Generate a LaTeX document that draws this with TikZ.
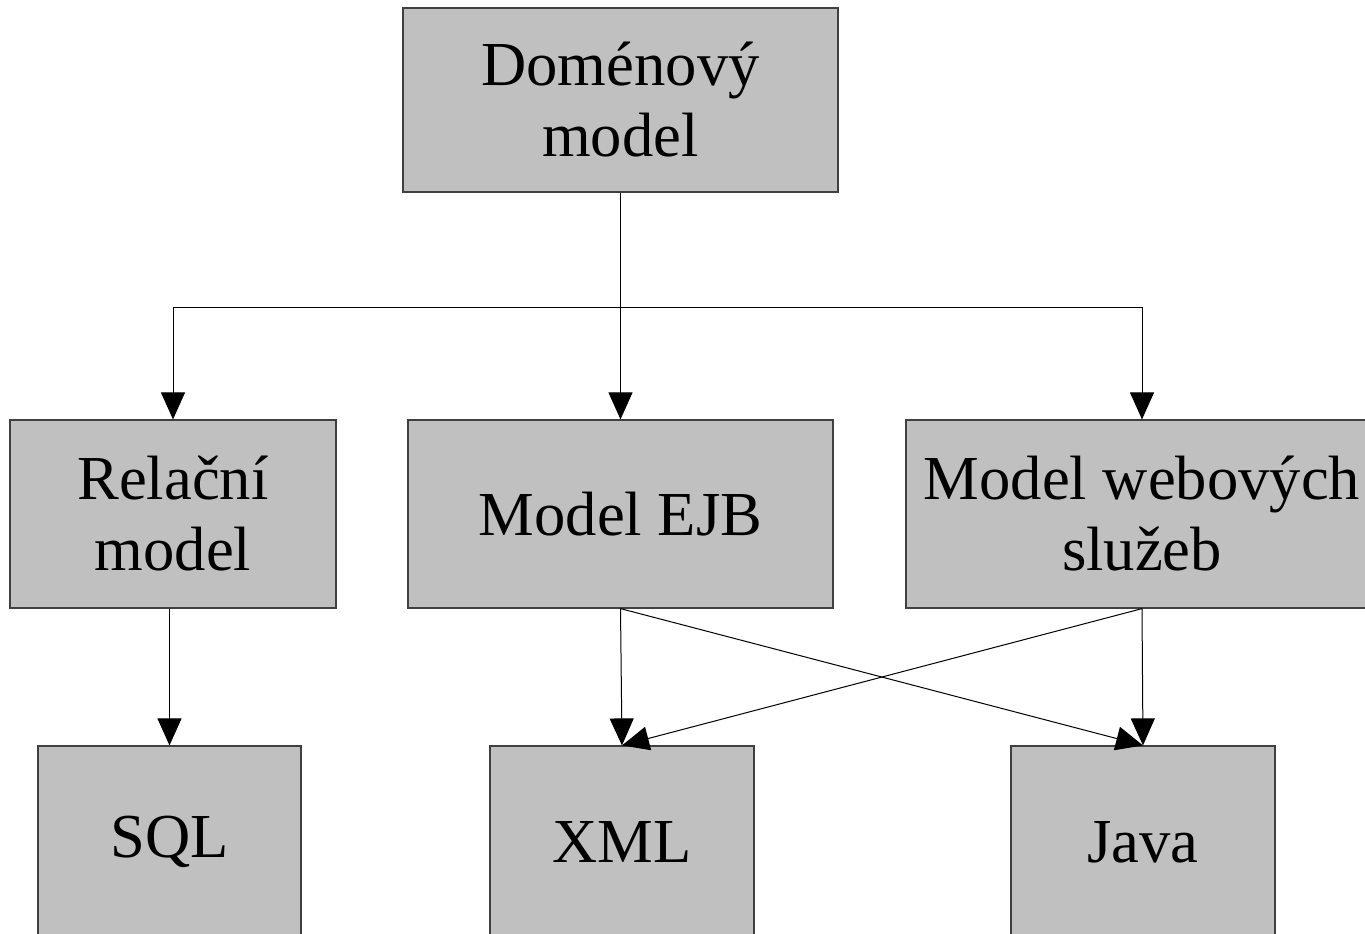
\documentclass[tikz,border=0pt]{standalone}
\usepackage{fontspec}
\setmainfont{Liberation Serif}
\usetikzlibrary{arrows.meta}

\definecolor{boxgray}{RGB}{192,192,192}
\tikzset{
    box/.style={draw=black!75, line width=0.6pt, fill=boxgray, align=center,
        inner sep=0pt, minimum height=94pt, font=\fontsize{31.3}{35.5}\selectfont},
    link/.style={line width=0.5pt, -{Triangle[length=13.5pt,width=12pt]}}
}

\begin{document}
\begin{tikzpicture}[x=0.5pt,y=-0.5pt]
    \useasboundingbox (0,0) rectangle (1365,933);
    \clip (0,0) rectangle (1365,933);

    \node[box, minimum width=217.5pt, minimum height=92pt] (dom) at (620.5,100) {Doménový\\model};

    \node[box, minimum width=163pt] (rel) at (173,514) {Relační\\model};
    \node[box, minimum width=212.5pt] (ejb) at (620.5,514) {Model EJB};
    \node[box, minimum width=236pt] (web) at (1142,514) {Model webových\\služeb};

    \node[box, minimum width=131.5pt, minimum height=96pt] (sql) at (169.5,842) {SQL};
    \node[box, minimum width=132pt, minimum height=96pt] (xml) at (622,842) {XML};
    \node[box, minimum width=132pt, minimum height=96pt] (java) at (1143,842) {Java};

    \coordinate (split) at (620.5,307);
    \draw[line width=0.5pt] (dom.south) -- (split);
    \draw[link] (split) -| (rel.north);
    \draw[link] (split) -- (ejb.north);
    \draw[link] (split) -| (web.north);

    \draw[link] (rel.south -| sql.north) -- (sql.north);
    \draw[link] (ejb.south) -- (xml.north);
    \draw[link] (ejb.south) -- (java.north);
    \draw[link] (web.south) -- (java.north);
    \draw[link] (web.south) -- (xml.north);
\end{tikzpicture}
\end{document}
